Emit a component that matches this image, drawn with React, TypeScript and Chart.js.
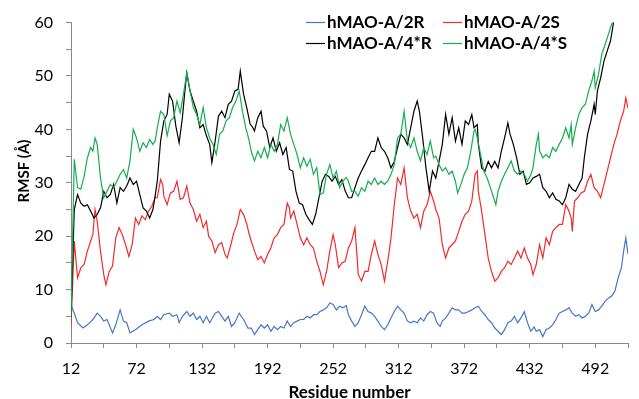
import React, { useEffect, useRef } from 'react';
import { Chart, registerables } from 'chart.js';

Chart.register(...registerables);

// ---------- data ----------
const seriesNames = ['hMAO-A/2R', 'hMAO-A/2S', 'hMAO-A/4*R', 'hMAO-A/4*S'];
const seriesColors = ['#4677C6', '#F22A2A', '#000000', '#14AE4E'];

const xTickValues = [12, 42, 72, 102, 132, 162, 192, 222, 252, 282, 312, 342, 372, 402, 432, 462, 492, 522];
const xLabelValues = [12, 72, 132, 192, 252, 312, 372, 432, 492];
const yLabelValues = [0, 10, 20, 30, 40, 50, 60];
const xTitle = 'Residue number';
const yTitle = 'RMSF (Å)';

const rmsf2R: [number, number][] = [
  [12,7.2],[15,5.6],[18,3.8],[23,2.8],[27,3.4],[32,4.4],[36,5.6],[39,5.0],[42,4.1],[45,4.4],[50,1.9],[53,3.4],[57,6.2],[60,4.1],[63,3.8],[66,1.9],[71,2.5],[77,3.4],[83,4.1],[88,4.4],
  [91,5.0],[94,4.4],[97,5.3],[102,5.6],[105,5.0],[109,5.3],[111,3.8],[114,5.0],[118,5.9],[121,5.0],[124,5.6],[127,4.4],[130,5.0],[133,3.8],[136,5.0],[139,3.8],[144,5.6],[147,5.9],[150,5.0],[153,4.1],
  [156,5.0],[159,3.1],[162,3.8],[166,5.6],[170,4.4],[174,2.8],[177,2.8],[180,1.6],[183,2.5],[186,3.4],[189,2.8],[192,3.4],[195,2.2],[198,3.1],[201,2.5],[204,3.1],[207,2.8],[210,4.1],[213,3.1],[216,3.8],
  [219,4.1],[222,4.4],[225,4.4],[228,5.0],[231,4.7],[234,5.3],[237,5.3],[240,5.9],[243,6.2],[246,6.6],[249,7.5],[252,7.2],[255,6.2],[258,6.9],[261,6.6],[264,7.0],[266,5.3],[269,4.1],[272,3.1],[275,3.8],
  [278,5.3],[281,6.9],[284,5.9],[287,5.6],[290,5.0],[293,4.1],[296,3.1],[299,2.5],[302,3.4],[305,4.7],[308,5.9],[311,6.9],[314,6.2],[317,5.6],[320,4.1],[323,3.8],[326,4.1],[329,3.8],[332,4.7],[335,4.1],
  [338,5.3],[341,5.9],[344,5.6],[347,3.8],[350,3.1],[352,4.1],[355,4.7],[358,5.6],[361,6.6],[364,6.2],[367,6.2],[370,5.6],[373,5.6],[376,5.9],[379,6.2],[382,6.6],[385,6.9],[388,5.9],[391,5.3],[394,4.4],
  [397,3.8],[400,2.8],[403,2.2],[406,1.6],[409,2.5],[412,3.8],[415,4.1],[418,5.0],[421,3.8],[424,4.7],[427,5.9],[430,3.8],[433,2.2],[436,3.0],[438,2.2],[441,2.5],[444,1.2],[447,2.5],[450,2.8],[453,3.4],
  [456,4.4],[459,5.6],[462,5.9],[465,6.2],[468,6.6],[471,5.6],[474,5.0],[477,5.3],[480,4.7],[483,5.0],[486,5.6],[489,7.2],[492,5.9],[495,6.2],[498,6.9],[501,7.8],[504,8.4],[507,8.8],[510,9.7],[513,12.2],
  [516,14.1],[518,17.2],[520,19.7],[522,16.6],
];

const rmsf2S: [number, number][] = [
  [12,3.1],[15,19.1],[18,12.2],[21,14.1],[24,14.7],[27,17.2],[30,19.1],[32,20.3],[34,25.0],[36,22.8],[39,17.2],[42,12.8],[44,10.9],[47,13.4],[50,14.4],[53,19.7],[56,21.6],[59,20.3],[62,18.4],[65,16.2],
  [68,18.4],[71,23.4],[74,22.2],[77,23.8],[80,23.1],[83,24.7],[86,25.6],[89,27.2],[91,27.2],[94,30.6],[96,29.7],[97,27.5],[100,25.9],[103,28.1],[106,28.4],[109,30.3],[112,26.9],[115,27.2],[118,29.4],[121,26.2],
  [124,25.0],[127,22.8],[130,24.1],[133,21.6],[136,22.8],[138,20.0],[141,19.1],[144,16.9],[147,18.4],[150,18.8],[153,16.6],[155,15.9],[158,18.1],[161,20.6],[164,22.2],[167,25.0],[170,24.1],[173,22.2],[175,20.5],[177,19.1],
  [180,17.2],[183,15.6],[186,16.2],[189,15.0],[192,16.6],[195,17.8],[198,19.7],[201,20.3],[204,21.6],[207,22.2],[210,26.2],[212,25.3],[213,23.4],[216,24.7],[219,22.2],[222,19.7],[225,18.4],[228,19.7],[231,18.4],[234,17.8],
  [237,15.3],[240,13.4],[243,10.9],[246,13.4],[249,17.2],[252,20.3],[254,18.4],[257,14.1],[260,15.0],[263,15.3],[266,17.8],[269,19.1],[272,21.6],[274,15.9],[275,12.8],[278,11.6],[281,13.4],[284,13.4],[287,16.6],[290,19.1],
  [293,16.6],[296,14.7],[299,11.6],[302,15.3],[305,19.7],[308,25.9],[311,30.9],[314,29.7],[317,32.8],[320,27.2],[323,24.7],[326,23.4],[329,24.1],[332,21.6],[335,24.7],[338,25.9],[341,28.4],[344,26.6],[346,25.0],[349,23.4],
  [352,18.4],[355,15.9],[358,17.8],[361,18.4],[364,19.1],[367,20.9],[370,22.8],[373,24.1],[376,24.7],[379,26.6],[382,31.6],[384,32.2],[385,28.4],[388,24.7],[391,20.3],[394,15.9],[397,13.4],[400,11.6],[403,12.2],[406,13.4],
  [409,14.1],[412,15.3],[415,14.7],[418,15.9],[421,17.2],[424,15.9],[427,17.8],[430,15.9],[433,14.7],[435,12.8],[438,14.7],[441,18.4],[444,15.9],[447,19.7],[450,18.4],[453,20.9],[456,21.6],[459,22.2],[462,22.2],[465,25.9],
  [468,24.7],[470,23.4],[471,20.9],[473,26.6],[476,27.2],[479,28.1],[482,28.4],[485,30.3],[488,31.6],[491,29.1],[494,28.4],[497,27.2],[500,29.7],[503,32.2],[506,34.7],[509,37.2],[512,39.1],[515,41.6],[518,43.4],[520,45.9],
  [522,44.0],
];

const rmsf4R: [number, number][] = [
  [12,5.0],[15,25.0],[18,27.8],[21,26.2],[24,25.6],[27,25.9],[30,24.7],[33,23.4],[36,24.1],[39,25.3],[42,28.4],[45,27.2],[48,27.8],[51,29.7],[54,26.2],[57,29.1],[60,28.4],[63,29.4],[66,30.9],[69,29.7],
  [72,30.3],[75,27.8],[78,25.3],[81,24.7],[84,23.4],[87,25.0],[89,27.5],[91,30.3],[94,37.8],[97,41.6],[100,42.8],[102,46.6],[105,45.3],[108,40.6],[111,37.5],[114,42.2],[116,46.6],[118,50.6],[121,47.2],[124,45.3],
  [127,43.4],[130,40.3],[133,40.9],[136,38.8],[139,37.2],[141,33.8],[144,37.8],[147,42.5],[150,43.4],[153,42.2],[156,44.7],[159,45.3],[162,47.2],[165,47.5],[167,50.9],[170,46.6],[173,44.0],[176,41.0],[178,40.5],[180,39.7],
  [183,42.2],[186,43.4],[188,40.6],[191,39.7],[194,36.6],[197,38.4],[200,35.9],[203,37.5],[206,35.3],[209,36.6],[212,32.5],[215,32.2],[218,28.4],[221,26.2],[224,25.9],[227,24.1],[230,23.1],[233,22.2],[236,24.1],[239,27.2],
  [242,30.3],[245,31.6],[248,31.2],[251,30.3],[254,31.2],[257,29.7],[260,30.6],[263,28.5],[266,27.2],[269,27.2],[272,29.1],[275,30.9],[278,32.2],[281,33.4],[284,34.7],[287,35.9],[290,35.9],[293,38.4],[296,36.6],[299,35.9],
  [302,34.7],[305,32.8],[308,34.0],[311,36.6],[314,39.1],[317,38.4],[320,37.2],[323,40.3],[326,43.4],[329,45.3],[331,43.4],[334,38.4],[337,32.8],[340,28.4],[343,32.2],[346,30.9],[349,34.0],[352,37.2],[355,42.8],[358,39.1],
  [361,42.2],[364,37.8],[367,40.3],[370,37.2],[373,41.6],[376,40.9],[379,42.8],[381,40.3],[384,40.9],[385,37.2],[388,32.8],[391,32.2],[394,34.0],[397,32.8],[400,34.0],[403,32.8],[406,35.9],[409,38.4],[412,41.2],[414,39.1],
  [417,37.2],[420,34.7],[423,31.6],[426,32.2],[429,29.7],[432,30.0],[435,30.9],[438,31.2],[441,31.6],[444,29.1],[447,28.4],[450,27.2],[453,28.1],[456,26.9],[459,26.6],[462,25.9],[465,27.2],[468,29.7],[471,28.8],[474,28.4],
  [477,29.7],[480,30.9],[482,34.7],[485,39.1],[488,41.6],[491,44.7],[492,42.8],[494,47.2],[497,49.7],[500,52.8],[503,54.7],[506,56.6],[509,60.3],[515,65.0],[522,70.0],
];

const rmsf4S: [number, number][] = [
  [12,5.0],[15,34.4],[18,29.1],[21,28.8],[24,31.2],[27,34.7],[30,36.6],[32,35.9],[34,38.4],[36,37.2],[39,30.9],[42,27.2],[45,28.4],[48,29.7],[51,29.1],[54,30.3],[57,31.6],[60,32.5],[63,30.9],[66,34.1],
  [69,40.0],[72,38.4],[75,35.9],[78,37.5],[81,36.6],[84,38.1],[87,37.2],[89,37.8],[91,40.3],[94,43.4],[97,42.8],[100,38.8],[103,41.6],[106,42.2],[109,45.3],[112,43.1],[115,46.6],[118,50.6],[121,47.2],[124,44.1],
  [127,42.8],[130,40.9],[133,44.1],[136,40.3],[139,38.4],[142,37.2],[145,35.3],[148,39.1],[151,39.7],[154,41.6],[157,42.2],[160,44.1],[163,45.3],[166,47.2],[169,43.4],[172,40.3],[175,38.0],[177,35.9],[180,34.1],[183,35.9],
  [186,34.7],[189,36.6],[192,34.7],[195,37.2],[198,35.9],[201,37.2],[204,40.9],[207,39.7],[210,42.2],[213,39.1],[216,37.2],[219,35.3],[222,32.8],[225,34.7],[228,33.1],[231,34.4],[234,31.6],[237,32.8],[240,27.8],[243,28.1],
  [246,31.6],[249,33.4],[252,30.9],[255,32.2],[258,29.1],[261,30.3],[264,31.0],[266,30.3],[269,28.4],[272,28.4],[275,27.5],[278,29.1],[281,28.4],[284,30.3],[287,29.7],[290,30.9],[293,29.7],[296,30.3],[299,29.7],[302,30.3],
  [305,31.6],[308,33.4],[311,38.4],[314,39.1],[317,43.4],[320,37.8],[323,36.6],[326,38.4],[329,35.9],[332,34.1],[335,36.6],[338,35.3],[341,37.8],[344,34.7],[346,35.0],[349,33.4],[352,32.2],[355,32.8],[358,31.6],[361,32.2],
  [364,30.3],[366,28.1],[369,29.7],[372,31.6],[375,32.8],[378,35.9],[381,39.7],[382,40.0],[384,38.4],[387,35.3],[390,32.2],[393,30.9],[396,29.1],[399,27.2],[401,25.9],[403,28.4],[406,30.3],[409,31.6],[412,32.8],[415,34.1],
  [418,32.2],[421,31.6],[424,32.2],[427,31.6],[430,30.3],[433,31.5],[435,32.8],[438,37.2],[440,39.1],[441,36.0],[444,34.7],[447,35.3],[450,34.7],[453,36.6],[456,35.9],[459,37.2],[462,38.4],[465,40.3],[468,38.4],[470,40.9],
  [471,37.2],[474,40.3],[477,42.8],[480,44.1],[483,44.7],[486,47.2],[489,49.1],[491,50.9],[492,47.8],[495,50.3],[498,54.1],[501,55.9],[504,57.8],[507,59.7],[509,60.6],[515,66.0],[522,72.0],
];

const seriesData = [rmsf2R, rmsf2S, rmsf4R, rmsf4S];

// ---------- legend (2 x 2 grid inside the plot) and y-axis title ----------
const legendSlots = [
  { x: 306, y: 22 },
  { x: 443, y: 22 },
  { x: 306, y: 43 },
  { x: 443, y: 43 },
];
const yTitlePos = { x: 24, y: 171 };

const overlayPlugin = {
  id: 'overlayTexts',
  afterDraw(chart: any) {
    const ctx = chart.ctx as CanvasRenderingContext2D;
    ctx.save();
    ctx.font = 'bold 17px Lato';
    ctx.textBaseline = 'middle';
    ctx.textAlign = 'left';
    seriesNames.forEach((name, i) => {
      const s = legendSlots[i];
      ctx.strokeStyle = seriesColors[i];
      ctx.lineWidth = 1.2;
      ctx.beginPath();
      ctx.moveTo(s.x, s.y + 0.5);
      ctx.lineTo(s.x + 19, s.y + 0.5);
      ctx.stroke();
      ctx.fillStyle = '#000000';
      ctx.fillText(name, s.x + 21, s.y + 1);
    });
    ctx.restore();

    ctx.save();
    ctx.translate(yTitlePos.x, yTitlePos.y);
    ctx.rotate(-Math.PI / 2);
    ctx.font = 'bold 15px Lato';
    ctx.textAlign = 'center';
    ctx.textBaseline = 'middle';
    ctx.fillStyle = '#000000';
    ctx.fillText(yTitle, 0, 0);
    ctx.restore();
  },
};

export default function App() {
  const canvasRef = useRef<HTMLCanvasElement | null>(null);

  useEffect(() => {
    const canvas = canvasRef.current;
    if (!canvas) return;
    Chart.defaults.font.family = 'Lato';
    const chart = new Chart(canvas, {
      type: 'line',
      data: {
        datasets: seriesData.map((pts, i) => ({
          label: seriesNames[i],
          data: pts.map(([x, y]) => ({ x, y })),
          borderColor: seriesColors[i],
          backgroundColor: seriesColors[i],
          borderWidth: 1.2,
          pointRadius: 0,
          tension: 0,
          fill: false,
          order: 3 - i,
        })),
      },
      options: {
        responsive: false,
        animation: false,
        devicePixelRatio: 1,
        layout: { padding: { top: 20, right: 5, left: 0, bottom: 0 } },
        plugins: {
          legend: { display: false },
          tooltip: { enabled: false },
        },
        scales: {
          x: {
            type: 'linear',
            min: xTickValues[0],
            max: xTickValues[xTickValues.length - 1],
            afterBuildTicks: (scale: any) => {
              scale.ticks = xTickValues.map((v) => ({ value: v }));
            },
            afterFit: (scale: any) => {
              scale.height = 56;
            },
            grid: {
              drawOnChartArea: false,
              drawTicks: true,
              tickLength: 5,
              color: '#8a8a8a',
            },
            border: { color: '#8a8a8a', width: 1 },
            ticks: {
              autoSkip: false,
              maxRotation: 0,
              padding: 11,
              color: '#000000',
              font: { size: 16, family: 'Lato' },
              callback: (v: any) => (xLabelValues.includes(Number(v)) ? String(v) : ''),
            },
            title: {
              display: true,
              text: xTitle,
              color: '#000000',
              font: { size: 17, weight: 'bold', family: 'Lato' },
              padding: { top: 0, bottom: -4 },
            },
          },
          y: {
            type: 'linear',
            min: 0,
            max: 60,
            afterFit: (scale: any) => {
              scale.width = 71;
            },
            grid: {
              drawOnChartArea: false,
              drawTicks: true,
              tickLength: 5,
              color: '#8a8a8a',
            },
            border: { color: '#8a8a8a', width: 1 },
            ticks: {
              stepSize: 5,
              autoSkip: false,
              padding: 13,
              color: '#000000',
              font: { size: 16, family: 'Lato' },
              callback: (v: any) => (yLabelValues.includes(Number(v)) ? String(v) : ''),
            },
            title: { display: false },
          },
        },
      },
      plugins: [overlayPlugin],
    });
    return () => chart.destroy();
  }, []);

  return (
    <div style={{ position: 'absolute', left: 0, top: 0, width: 639, height: 399, background: '#ffffff' }}>
      <canvas ref={canvasRef} width={639} height={399} style={{ display: 'block', width: 639, height: 399 }} />
    </div>
  );
}
